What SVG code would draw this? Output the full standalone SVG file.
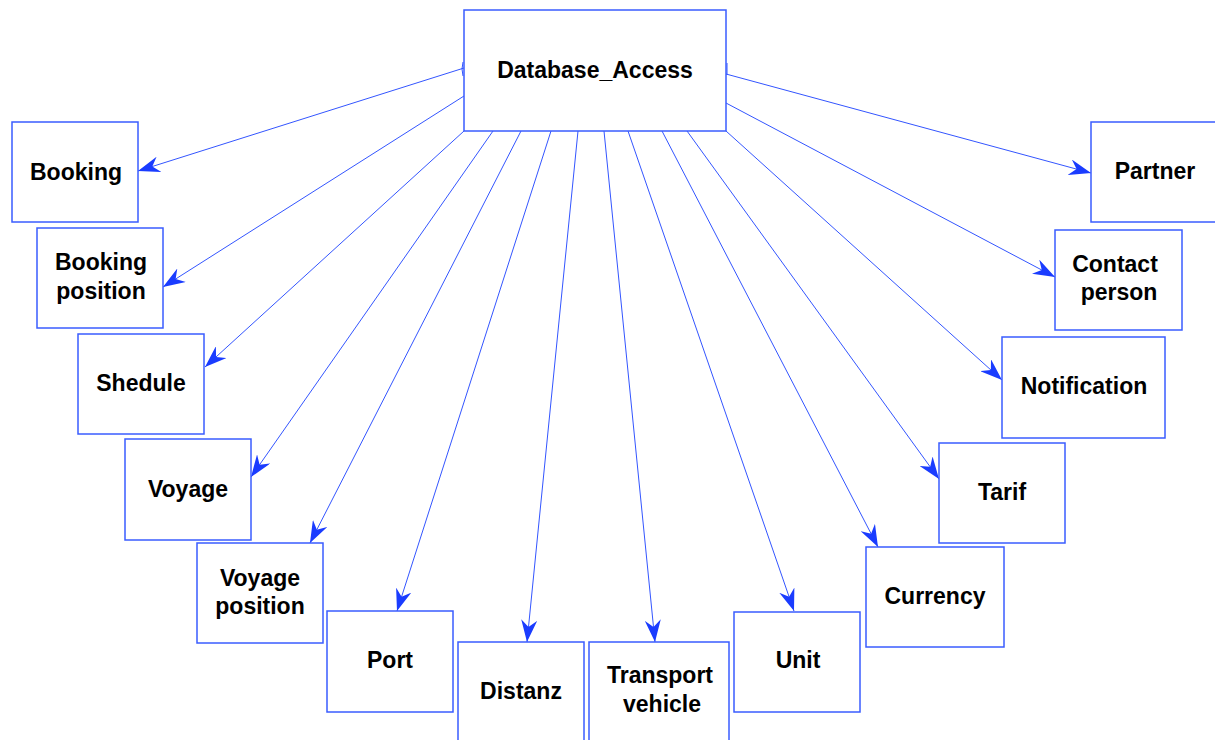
<svg xmlns="http://www.w3.org/2000/svg" width="1215" height="740" viewBox="0 0 1215 740">
<style>
.box{fill:#fff;stroke:#3a5cff;stroke-width:1.5}
.lbl{font-family:"Liberation Sans",Arial,sans-serif;font-weight:bold;font-size:23px;fill:#000;text-anchor:middle}
.con{stroke:#3355ff;stroke-width:1;fill:none;marker-end:url(#ah)}
</style>
<defs>
<marker id="ah" viewBox="0 0 22 16" refX="22" refY="8" markerWidth="22" markerHeight="16" markerUnits="userSpaceOnUse" orient="auto">
<path d="M0,0 L22,8 L0,16 L7,8 Z" fill="#1a3cff"/>
</marker>
</defs>
<rect width="1215" height="740" fill="#fff"/>
<g id="connectors">
<line class="con" x1="464" y1="68" x2="138" y2="171"/>
<line class="con" x1="464" y1="96" x2="163" y2="287"/>
<line class="con" x1="464" y1="131" x2="205" y2="367"/>
<line class="con" x1="493" y1="131" x2="251" y2="477"/>
<line class="con" x1="521" y1="131" x2="310" y2="543"/>
<line class="con" x1="551" y1="131" x2="397" y2="611"/>
<line class="con" x1="578" y1="131" x2="527" y2="642"/>
<line class="con" x1="604" y1="131" x2="655" y2="642"/>
<line class="con" x1="628" y1="131" x2="794" y2="611"/>
<line class="con" x1="662" y1="131" x2="878" y2="547"/>
<line class="con" x1="687" y1="131" x2="939" y2="479"/>
<line class="con" x1="726" y1="131" x2="1002" y2="380"/>
<line class="con" x1="726" y1="103" x2="1055" y2="277"/>
<line class="con" x1="726" y1="74" x2="1091" y2="173"/>
<path d="M463,62 Q461,69 463,76" stroke="#3355ff" stroke-width="1" fill="none"/>
<path d="M727,63 L727,75" stroke="#3355ff" stroke-width="1" fill="none"/>
</g>
<g id="database_access">
<rect class="box" x="464" y="10" width="262" height="121"/>
<text class="lbl" x="595" y="78">Database_Access</text>
</g>
<g id="booking">
<rect class="box" x="12" y="122" width="126" height="100"/>
<text class="lbl" x="76" y="180">Booking</text>
</g>
<g id="booking_position">
<rect class="box" x="37" y="228" width="126" height="100"/>
<text class="lbl" x="101" y="270">Booking</text>
<text class="lbl" x="101" y="298.5">position</text>
</g>
<g id="shedule">
<rect class="box" x="78" y="334" width="126" height="100"/>
<text class="lbl" x="141" y="391">Shedule</text>
</g>
<g id="voyage">
<rect class="box" x="125" y="439" width="126" height="101"/>
<text class="lbl" x="188" y="497">Voyage</text>
</g>
<g id="voyage_position">
<rect class="box" x="197" y="543" width="126" height="100"/>
<text class="lbl" x="260" y="586">Voyage</text>
<text class="lbl" x="260" y="614">position</text>
</g>
<g id="port">
<rect class="box" x="327" y="611" width="126" height="101"/>
<text class="lbl" x="390" y="668">Port</text>
</g>
<g id="distanz">
<rect class="box" x="458" y="642" width="126" height="100"/>
<text class="lbl" x="521" y="699">Distanz</text>
</g>
<g id="transport_vehicle">
<rect class="box" x="589" y="642" width="140" height="100"/>
<text class="lbl" x="660" y="683">Transport</text>
<text class="lbl" x="662" y="712">vehicle</text>
</g>
<g id="unit">
<rect class="box" x="734" y="612" width="126" height="100"/>
<text class="lbl" x="798" y="668">Unit</text>
</g>
<g id="currency">
<rect class="box" x="866" y="547" width="138" height="100"/>
<text class="lbl" x="935" y="604">Currency</text>
</g>
<g id="tarif">
<rect class="box" x="939" y="443" width="126" height="100"/>
<text class="lbl" x="1002" y="500">Tarif</text>
</g>
<g id="notification">
<rect class="box" x="1002" y="337" width="163" height="101"/>
<text class="lbl" x="1084" y="394">Notification</text>
</g>
<g id="contact_person">
<rect class="box" x="1055" y="230" width="127" height="100"/>
<text class="lbl" x="1115" y="272">Contact</text>
<text class="lbl" x="1119" y="300">person</text>
</g>
<g id="partner">
<rect class="box" x="1091" y="122" width="126" height="100"/>
<text class="lbl" x="1155" y="179">Partner</text>
</g>
</svg>
